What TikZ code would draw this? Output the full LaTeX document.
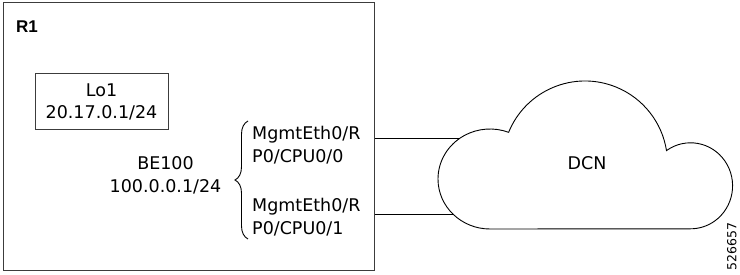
\documentclass[tikz,border=0pt]{standalone}
\usepackage{fontspec}
\setmainfont{DejaVu Sans}
\newfontfamily\tagfont{Liberation Sans}
\usepackage{tikz}
\usetikzlibrary{
	calc,
	positioning,
	decorations.pathreplacing
}
\definecolor{FrameGray}{RGB}{60,60,60}

\tikzset{
	lbl/.style={inner sep=0pt, align=center, font=\fontsize{17.5}{22.7}\selectfont},
	frame/.style={draw=FrameGray, line width=1pt},
	link/.style={line width=0.9pt}
}

\begin{document}
\begin{tikzpicture}[x=1pt, y=1pt]
		\useasboundingbox (0,0) rectangle (740,275);
		
		% 路由器 R1
		\node[frame, anchor=south west, minimum width=371pt, minimum height=268pt, inner sep=0pt] (R1box) at (3,4) {};
		\node[inner sep=0pt, anchor=base west, font=\tagfont\bfseries\fontsize{17}{20}\selectfont] (R1) at (16,242.3) {R1};
		
		% 环回口 Lo1
		\node[frame, lbl, minimum width=133pt, minimum height=56pt] (lo1) at (101.5,173) {Lo1\\20.17.0.1/24};
		
		% 捆绑口 BE100
		\node[lbl] (be100) at (165.5,100) {BE100\\100.0.0.1/24};
		\draw[link, decorate, decoration={brace, amplitude=13pt}] (248,36) -- (248,154);
		
		% 管理口
		\node[lbl, align=left, anchor=west] (mgmt0) at (252,129.8) {MgmtEth0/R\\P0/CPU0/0};
		\node[lbl, align=left, anchor=west] (mgmt1) at (252,57.8) {MgmtEth0/R\\P0/CPU0/1};
		
		% 云 DCN
		\draw[link] (490,46) arc[start angle=270, end angle=69, x radius=52, y radius=50]
			arc[start angle=157.8, end angle=9, radius=82.5]
			arc[start angle=125, end angle=-90, x radius=42, y radius=43] -- cycle;
		\node[lbl, anchor=base] (dcn) at (587,105) {DCN};
		\coordinate (dcnA) at (460,137);
		\coordinate (dcnB) at (453,61);
		
		% 连线
		\draw[link] (R1box.east |- dcnA) -- (dcnA);
		\draw[link] (R1box.east |- dcnB) -- (dcnB);
		
		% 图号
		\node[inner sep=0pt, rotate=90, font=\fontsize{12.5}{14}\selectfont] (figno) at (731.7,28.5) {526657};
	\end{tikzpicture}
\end{document}
